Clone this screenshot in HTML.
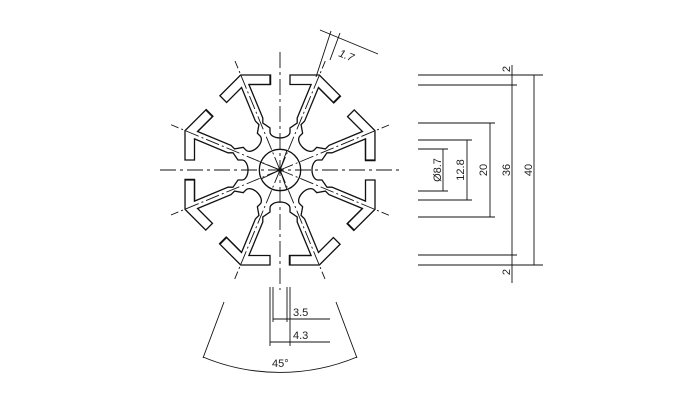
<!DOCTYPE html>
<html><head><meta charset="utf-8"><style>
html,body{margin:0;padding:0;background:#fff;}
svg{display:block;}
text{font-family:"Liberation Sans",sans-serif;font-size:11px;fill:#222;}
</style></head><body>
<svg width="700" height="400" viewBox="0 0 700 400" xmlns="http://www.w3.org/2000/svg">
<defs>
<path id="s" d="M270,75 L270,84.5 L248.9,84.5 L262.8,118 L262.8,123 L270,128 L270,132 A10 6 0 0 0 290,132 L290,128 L297.2,123 L297.2,118 L311.1,84.5 L290,84.5 L290,75 L319.3,75 L340.5,96.2 L333.8,102.9 L318.4,87.5" fill="none" stroke="#111" stroke-width="1.3"/>
<line id="c" x1="280" y1="170" x2="235" y2="61" stroke="#111" stroke-width="0.9" stroke-dasharray="14 3 2 3"/>
</defs>
<g>
<use href="#s"/>
<use href="#s" transform="rotate(45 280 170)"/>
<use href="#s" transform="rotate(90 280 170)"/>
<use href="#s" transform="rotate(135 280 170)"/>
<use href="#s" transform="rotate(180 280 170)"/>
<use href="#s" transform="rotate(225 280 170)"/>
<use href="#s" transform="rotate(270 280 170)"/>
<use href="#s" transform="rotate(315 280 170)"/>
</g>
<g>
<use href="#c"/>
<use href="#c" transform="rotate(45 280 170)"/>
<use href="#c" transform="rotate(90 280 170)"/>
<use href="#c" transform="rotate(135 280 170)"/>
<use href="#c" transform="rotate(180 280 170)"/>
<use href="#c" transform="rotate(225 280 170)"/>
<use href="#c" transform="rotate(270 280 170)"/>
<use href="#c" transform="rotate(315 280 170)"/>
</g>
<line x1="160" y1="170" x2="400" y2="170" stroke="#111" stroke-width="0.9" stroke-dasharray="16 4 3 4"/>
<line x1="280" y1="52" x2="280" y2="290" stroke="#111" stroke-width="0.9" stroke-dasharray="16 4 3 4"/>
<circle cx="280" cy="170" r="20.7" fill="none" stroke="#111" stroke-width="1.3"/>
<circle cx="280" cy="170" r="2.2" fill="#111"/>
<g stroke="#111" stroke-width="0.9">
<line x1="280" y1="170" x2="260" y2="162"/>
<line x1="280" y1="170" x2="287" y2="150"/>
<line x1="280" y1="170" x2="261" y2="179"/>
<line x1="280" y1="170" x2="287" y2="190"/>
</g>
<g stroke="#111" stroke-width="0.9">
<line x1="320" y1="30" x2="378" y2="54"/>
<line x1="331" y1="31" x2="316" y2="77"/>
<line x1="340" y1="33" x2="330" y2="60"/>
</g>
<text x="338" y="56" transform="rotate(22 338 56)" font-style="italic">1.7</text>
<g stroke="#111" stroke-width="0.9" fill="none">
<line x1="224" y1="302" x2="203" y2="358"/>
<line x1="336" y1="302" x2="357" y2="358"/>
<path d="M203,357 A200 200 0 0 0 357,357"/>
<line x1="270" y1="287" x2="270" y2="346"/>
<line x1="273" y1="287" x2="273" y2="322"/>
<line x1="287" y1="287" x2="287" y2="322"/>
<line x1="290" y1="287" x2="290" y2="346"/>
<line x1="273" y1="319" x2="330" y2="319"/>
<line x1="270" y1="342" x2="330" y2="342"/>
</g>
<text x="293" y="316">3.5</text>
<text x="293" y="339">4.3</text>
<text x="272" y="367">45°</text>
<g stroke="#111" stroke-width="1.1">
<line x1="418" y1="75" x2="543" y2="75"/>
<line x1="418" y1="85" x2="517" y2="85"/>
<line x1="418" y1="123" x2="495" y2="123"/>
<line x1="418" y1="140" x2="472" y2="140"/>
<line x1="418" y1="149" x2="448" y2="149"/>
<line x1="418" y1="191" x2="448" y2="191"/>
<line x1="418" y1="200" x2="472" y2="200"/>
<line x1="418" y1="217" x2="495" y2="217"/>
<line x1="418" y1="255" x2="517" y2="255"/>
<line x1="418" y1="265" x2="543" y2="265"/>
</g>
<g stroke="#111" stroke-width="0.9">
<line x1="443" y1="149" x2="443" y2="191"/>
<line x1="467" y1="140" x2="467" y2="200"/>
<line x1="490" y1="123" x2="490" y2="217"/>
<line x1="512" y1="65" x2="512" y2="283"/>
<line x1="534" y1="75" x2="534" y2="265"/>
</g>
<text transform="translate(441 170) rotate(-90)" text-anchor="middle">Ø8.7</text>
<text transform="translate(464 170) rotate(-90)" text-anchor="middle">12.8</text>
<text transform="translate(487 170) rotate(-90)" text-anchor="middle">20</text>
<text transform="translate(510 170) rotate(-90)" text-anchor="middle">36</text>
<text transform="translate(532 170) rotate(-90)" text-anchor="middle">40</text>
<text transform="translate(510 69) rotate(-90)" text-anchor="middle">2</text>
<text transform="translate(510 272) rotate(-90)" text-anchor="middle">2</text>
</svg>
</body></html>
